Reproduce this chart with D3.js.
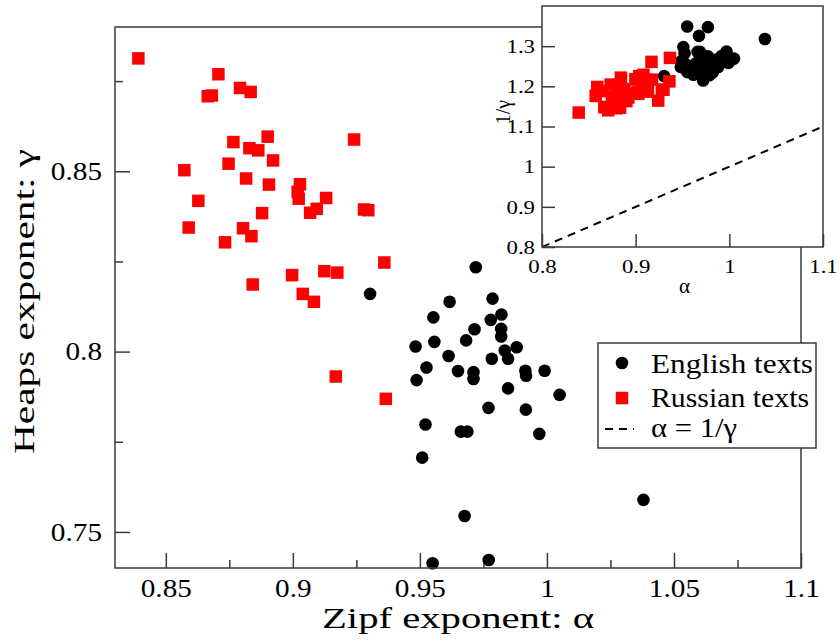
<!DOCTYPE html>
<html>
<head>
<meta charset="utf-8">
<script src="https://cdn.jsdelivr.net/npm/d3@7"></script>
<style>
  html, body { margin: 0; padding: 0; background: #fff; }
  svg { display: block; }
  text { font-family: "Liberation Serif", "Times New Roman", serif; fill: #000; }
</style>
</head>
<body>
<svg id="chart" width="840" height="644"></svg>
<script>
// ---- Data ----
const englishAlpha = [0.9304,0.9720,0.9617,0.9786,0.9553,0.9779,0.9821,0.9715,0.9820,0.9820,
  0.9682,0.9557,0.9483,0.9613,0.9783,0.9834,0.9847,0.9881,0.9526,0.9487,
  0.9650,0.9711,0.9711,0.9915,0.9918,0.9991,0.9847,1.0050,0.9770,0.9917,
  0.9522,0.9661,0.9687,0.9970,0.9509,0.9676,0.9550,0.9771,1.0380];
const englishGamma = [0.8160,0.8234,0.8138,0.8147,0.8095,0.8088,0.8103,0.8062,0.8063,0.8042,
  0.8031,0.8027,0.8014,0.7988,0.7980,0.8003,0.7980,0.8012,0.7956,0.7921,
  0.7946,0.7943,0.7924,0.7947,0.7933,0.7947,0.7898,0.7880,0.7844,0.7839,
  0.7798,0.7778,0.7778,0.7772,0.7706,0.7544,0.7413,0.7422,0.7589];
const russianAlpha = [0.8392,0.8707,0.8792,0.8834,0.8665,0.8681,0.8901,0.8766,0.8829,0.8864,
  0.9241,0.8573,0.8747,0.8922,0.8816,0.8906,0.8628,0.9028,0.9019,0.9023,
  0.9131,0.9094,0.9068,0.9280,0.9297,0.8879,0.8590,0.8804,0.8837,0.8733,
  0.9360,0.8997,0.9124,0.9175,0.8842,0.9039,0.9083,0.9169,0.9366];
const russianGamma = [0.8813,0.8769,0.8731,0.8720,0.8708,0.8710,0.8596,0.8581,0.8564,0.8558,
  0.8588,0.8503,0.8521,0.8530,0.8480,0.8463,0.8418,0.8464,0.8443,0.8424,
  0.8426,0.8396,0.8385,0.8394,0.8392,0.8384,0.8344,0.8342,0.8320,0.8303,
  0.8247,0.8212,0.8223,0.8219,0.8186,0.8160,0.8138,0.7931,0.7869];
const identityLine = [0.8, 1.1];   // alpha = 1/gamma reference line

const mainXTicks = [0.85, 0.9, 0.95, 1, 1.05, 1.1];
const mainXMinor = [0.875, 0.925, 0.975, 1.025, 1.075];
const mainYTicks = [0.75, 0.8, 0.85];
const mainYMinor = [0.775, 0.825, 0.875];
const insetXTicks = [0.8, 0.9, 1, 1.1];
const insetYTicks = [0.8, 0.9, 1, 1.1, 1.2, 1.3];

const legendLabels = ["English texts", "Russian texts", "\u03b1 = 1/\u03b3"];
const xTitle = "Zipf exponent: \u03b1";
const yTitle = "Heaps exponent: \u03b3";

// ---- Layout ----
const svg = d3.select("#chart");
const axisColor = "#3a3a3a";
const M = { left: 115, right: 801, top: 27, bottom: 568 };
const I = { left: 542, right: 823, top: 6, bottom: 247 };

const x = d3.scaleLinear().domain([0.83, 1.1]).range([M.left, M.right]);
const y = d3.scaleLinear().domain([0.74, 0.89]).range([M.bottom, M.top]);
const xi = d3.scaleLinear().domain([0.8, 1.1]).range([I.left, I.right]);
const yi = d3.scaleLinear().domain([0.8, 1.4]).range([I.bottom, I.top]);

const english = englishAlpha.map((a, i) => ({ a, g: englishGamma[i] }));
const russian = russianAlpha.map((a, i) => ({ a, g: russianGamma[i] }));

function stretch(sel, k) {
  sel.each(function () {
    const w = this.getComputedTextLength();
    d3.select(this).attr("textLength", w * k).attr("lengthAdjust", "spacingAndGlyphs");
  });
}
function fitWidth(sel, width) {
  sel.attr("textLength", width).attr("lengthAdjust", "spacingAndGlyphs");
}

// ---- Main plot ----
svg.append("rect").attr("x", M.left).attr("y", M.top)
  .attr("width", M.right - M.left).attr("height", M.bottom - M.top)
  .attr("fill", "#fff");

function styleAxis(g) {
  g.select(".domain").remove();
  g.selectAll(".tick line").attr("stroke", axisColor).attr("stroke-width", 1.5);
}

const gxMinor = svg.append("g").attr("transform", `translate(0,${M.bottom})`)
  .call(d3.axisBottom(x).tickValues(mainXMinor).tickSize(-8).tickFormat(""));
styleAxis(gxMinor);
const gx = svg.append("g").attr("transform", `translate(0,${M.bottom})`)
  .call(d3.axisBottom(x).tickValues(mainXTicks).tickSize(-15).tickFormat(d => String(d)));
styleAxis(gx);
gx.selectAll(".tick text").attr("y", 29).attr("dy", null)
  .attr("font-size", 25).attr("font-family", "Liberation Serif").attr("fill", "#000");
stretch(gx.selectAll(".tick text"), 1.17);

const gyMinor = svg.append("g").attr("transform", `translate(${M.left},0)`)
  .call(d3.axisLeft(y).tickValues(mainYMinor).tickSize(-8).tickFormat(""));
styleAxis(gyMinor);
const gy = svg.append("g").attr("transform", `translate(${M.left},0)`)
  .call(d3.axisLeft(y).tickValues(mainYTicks).tickSize(-15).tickFormat(d => String(d)));
styleAxis(gy);
gy.selectAll(".tick text").attr("x", -13).attr("dy", "0.33em")
  .attr("font-size", 25).attr("font-family", "Liberation Serif").attr("fill", "#000");
stretch(gy.selectAll(".tick text"), 1.17);

// points: English (black circles) then Russian (red squares)
svg.append("g").selectAll("circle").data(english).join("circle")
  .attr("cx", d => x(d.a)).attr("cy", d => y(d.g)).attr("r", 6.3).attr("fill", "#000");
const sq = 12.5;
svg.append("g").selectAll("rect").data(russian).join("rect")
  .attr("x", d => x(d.a) - sq / 2).attr("y", d => y(d.g) - sq / 2)
  .attr("width", sq).attr("height", sq).attr("fill", "#ff0000");

svg.append("rect").attr("x", M.left).attr("y", M.top)
  .attr("width", M.right - M.left).attr("height", M.bottom - M.top)
  .attr("fill", "none").attr("stroke", axisColor).attr("stroke-width", 1.5);

// axis titles
const xt = svg.append("text").attr("x", (M.left + M.right) / 2).attr("y", 628)
  .attr("text-anchor", "middle").attr("font-size", 30).text(xTitle);
fitWidth(xt, 272);
const yt = svg.append("text")
  .attr("transform", `translate(34,${(M.top + M.bottom) / 2 + 4}) rotate(-90)`)
  .attr("text-anchor", "middle").attr("font-size", 30).text(yTitle);
fitWidth(yt, 305);

// ---- Legend ----
const L = { x: 598, y: 343, w: 218, h: 105 };
svg.append("rect").attr("x", L.x).attr("y", L.y).attr("width", L.w).attr("height", L.h)
  .attr("fill", "#fff").attr("stroke", axisColor).attr("stroke-width", 1.5);
svg.append("circle").attr("cx", 622).attr("cy", 363).attr("r", 6.3).attr("fill", "#000");
svg.append("rect").attr("x", 622 - sq / 2).attr("y", 398 - sq / 2)
  .attr("width", sq).attr("height", sq).attr("fill", "#ff0000");
svg.append("line").attr("x1", 605).attr("x2", 634).attr("y1", 429).attr("y2", 429)
  .attr("stroke", "#000").attr("stroke-width", 2).attr("stroke-dasharray", "8,6");
const legWidths = [162, 158, 86];
const legBase = [373, 407, 437];
legendLabels.forEach((t, i) => {
  const el = svg.append("text").attr("x", 651).attr("y", legBase[i])
    .attr("font-size", 27).text(t);
  fitWidth(el, legWidths[i]);
});

// ---- Inset ----
svg.append("rect").attr("x", I.left).attr("y", I.top)
  .attr("width", I.right - I.left).attr("height", I.bottom - I.top)
  .attr("fill", "#fff");

const gix = svg.append("g").attr("transform", `translate(0,${I.bottom})`)
  .call(d3.axisBottom(xi).tickValues(insetXTicks).tickSize(-13).tickFormat(d => String(d)));
styleAxis(gix);
gix.selectAll(".tick text").attr("y", 26).attr("dy", null)
  .attr("font-size", 19).attr("font-family", "Liberation Serif").attr("fill", "#000");
stretch(gix.selectAll(".tick text"), 1.2);

const giy = svg.append("g").attr("transform", `translate(${I.left},0)`)
  .call(d3.axisLeft(yi).tickValues(insetYTicks).tickSize(-13).tickFormat(d => String(d)));
styleAxis(giy);
giy.selectAll(".tick text").attr("x", -7).attr("dy", "0.33em")
  .attr("font-size", 19).attr("font-family", "Liberation Serif").attr("fill", "#000");
stretch(giy.selectAll(".tick text"), 1.2);

const clip = svg.append("clipPath").attr("id", "insetClip").append("rect")
  .attr("x", I.left).attr("y", I.top).attr("width", I.right - I.left).attr("height", I.bottom - I.top);
const ig = svg.append("g").attr("clip-path", "url(#insetClip)");
ig.append("line")
  .attr("x1", xi(identityLine[0])).attr("y1", yi(identityLine[0]))
  .attr("x2", xi(identityLine[1])).attr("y2", yi(identityLine[1]))
  .attr("stroke", "#000").attr("stroke-width", 2).attr("stroke-dasharray", "8,6");
ig.append("g").selectAll("circle").data(english).join("circle")
  .attr("cx", d => xi(d.a)).attr("cy", d => yi(1 / d.g)).attr("r", 6.3).attr("fill", "#000");
ig.append("g").selectAll("rect").data(russian).join("rect")
  .attr("x", d => xi(d.a) - sq / 2).attr("y", d => yi(1 / d.g) - sq / 2)
  .attr("width", sq).attr("height", sq).attr("fill", "#ff0000");

svg.append("rect").attr("x", I.left).attr("y", I.top)
  .attr("width", I.right - I.left).attr("height", I.bottom - I.top)
  .attr("fill", "none").attr("stroke", axisColor).attr("stroke-width", 1.5);

svg.append("text").attr("x", (I.left + I.right) / 2 + 2).attr("y", 293)
  .attr("text-anchor", "middle").attr("font-size", 21).text("\u03b1");
svg.append("text")
  .attr("transform", `translate(510,112) rotate(-90)`)
  .attr("text-anchor", "middle").attr("font-size", 20).text("1/\u03b3");
</script>
</body>
</html>
